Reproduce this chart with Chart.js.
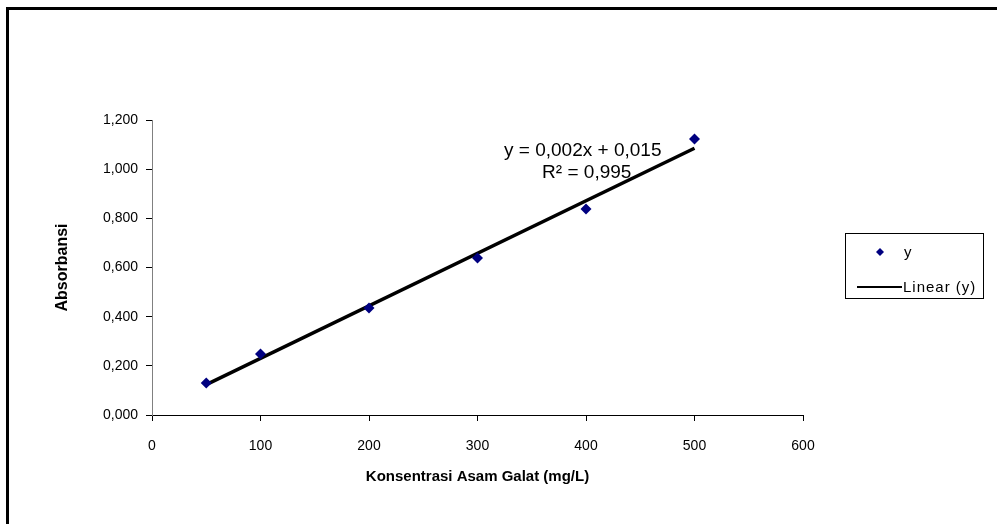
<!DOCTYPE html>
<html>
<head>
<meta charset="utf-8">
<script src="https://cdn.jsdelivr.net/npm/chart.js@4/dist/chart.umd.min.js"></script>
<style>
  body { margin: 0; background: #fff; }
  canvas { display: block; }
</style>
</head>
<body>
<canvas id="myChart" width="997" height="524"></canvas>
<script>
// data
const konsentrasi = [50, 100, 200, 300, 400, 500];
const absorbansi = [0.130, 0.248, 0.435, 0.639, 0.838, 1.123];
const xTicks = [0, 100, 200, 300, 400, 500, 600];
const yTicks = [0, 0.2, 0.4, 0.6, 0.8, 1.0, 1.2];
const equationText = ["y = 0,002x + 0,015", "R\u00b2 = 0,995"];

// least squares trendline (same thing Excel does)
const n = konsentrasi.length;
const mx = konsentrasi.reduce((a, b) => a + b, 0) / n;
const my = absorbansi.reduce((a, b) => a + b, 0) / n;
let sxy = 0, sxx = 0;
konsentrasi.forEach((x, i) => {
    sxy += (x - mx) * (absorbansi[i] - my);
    sxx += (x - mx) * (x - mx);
});
const slope = sxy / sxx;
const intercept = my - slope * mx;
const trendX = [konsentrasi[0], konsentrasi[n - 1]];

const fmt = (v) => v.toFixed(3).replace(".", ",");

const extras = {
    id: "extras",
    beforeDraw(chart) {
        const ctx = chart.ctx;
        ctx.save();
        ctx.fillStyle = "#fff";
        ctx.fillRect(0, 0, chart.width, chart.height);
        // outer frame
        ctx.strokeStyle = "#000";
        ctx.lineWidth = 3;
        ctx.strokeRect(7.5, 8.5, 1100, 600);
        ctx.restore();
    },
    afterDraw(chart) {
        const ctx = chart.ctx;
        const xs = chart.scales.x;
        const ys = chart.scales.y;
        ctx.save();
        // equation label
        ctx.fillStyle = "#000";
        ctx.font = "19px 'Liberation Sans', Arial, sans-serif";
        ctx.textAlign = "center";
        ctx.textBaseline = "middle";
        const cx = xs.getPixelForValue(397);
        const cy = ys.getPixelForValue(1.075);
        ctx.fillText(equationText[0], cx, cy);
        ctx.fillText(equationText[1], cx + 4, cy + 22);

        // legend box
        ctx.strokeStyle = "#000";
        ctx.lineWidth = 1;
        ctx.strokeRect(845.5, 233.5, 138, 65);
        ctx.fillStyle = "#000080";
        ctx.beginPath();
        ctx.moveTo(880, 248);
        ctx.lineTo(884, 252);
        ctx.lineTo(880, 256);
        ctx.lineTo(876, 252);
        ctx.closePath();
        ctx.fill();
        ctx.fillStyle = "#000";
        ctx.font = "15px 'Liberation Sans', Arial, sans-serif";
        ctx.letterSpacing = "1px";
        ctx.textAlign = "left";
        ctx.fillText("y", 904, 253);
        ctx.strokeStyle = "#000";
        ctx.lineWidth = 2;
        ctx.beginPath();
        ctx.moveTo(857, 287);
        ctx.lineTo(902, 287);
        ctx.stroke();
        ctx.fillText("Linear (y)", 903, 288);
        ctx.restore();
    }
};

Chart.defaults.font.family = "'Liberation Sans', Arial, sans-serif";
Chart.defaults.color = "#000";

const ctx = document.getElementById("myChart").getContext("2d");

const myChart = new Chart(ctx, {
    type: "scatter",
    data: {
        datasets: [
            {
                label: "Linear (y)",
                type: "line",
                data: trendX.map((x) => ({ x: x, y: intercept + slope * x })),
                borderColor: "#000",
                borderWidth: 3.5,
                pointRadius: 0,
                fill: false,
                order: 2,
            },
            {
                label: "y",
                data: konsentrasi.map((x, i) => ({ x: x, y: absorbansi[i] })),
                pointStyle: "rectRot",
                pointRadius: 5.5,
                backgroundColor: "#000080",
                borderColor: "#000080",
                borderWidth: 0,
                order: 1,
            },
        ],
    },
    options: {
        responsive: false,
        animation: false,
        layout: { padding: { left: 50, top: 120, right: 194, bottom: 34 } },
        plugins: {
            legend: { display: false },
            tooltip: { enabled: false },
        },
        scales: {
            x: {
                type: "linear",
                min: xTicks[0],
                max: xTicks[xTicks.length - 1],
                afterBuildTicks: (axis) => {
                    axis.ticks = xTicks.map((v) => ({ value: v }));
                },
                afterFit: (axis) => { axis.height = 75; },
                ticks: { font: { size: 14 }, padding: 17, maxRotation: 0 },
                grid: {
                    drawOnChartArea: false,
                    tickLength: 6,
                    color: "#000",
                },
                border: { color: "#000", width: 1 },
                title: {
                    display: true,
                    text: "Konsentrasi Asam Galat (mg/L)",
                    font: { size: 15, weight: "bold" },
                    padding: { top: 4, bottom: 4 },
                },
            },
            y: {
                min: yTicks[0],
                max: yTicks[yTicks.length - 1],
                afterBuildTicks: (axis) => {
                    axis.ticks = yTicks.map((v) => ({ value: v }));
                },
                afterFit: (axis) => { axis.width = 102; },
                ticks: { font: { size: 14 }, padding: 8, callback: (v) => fmt(v) },
                grid: {
                    drawOnChartArea: false,
                    tickLength: 6,
                    color: "#000",
                },
                border: { color: "#808080", width: 1 },
                title: {
                    display: true,
                    text: "Absorbansi",
                    font: { size: 16, weight: "bold" },
                    padding: { top: 3, bottom: 4 },
                },
            },
        },
    },
    plugins: [extras],
});
</script>
</body>
</html>
